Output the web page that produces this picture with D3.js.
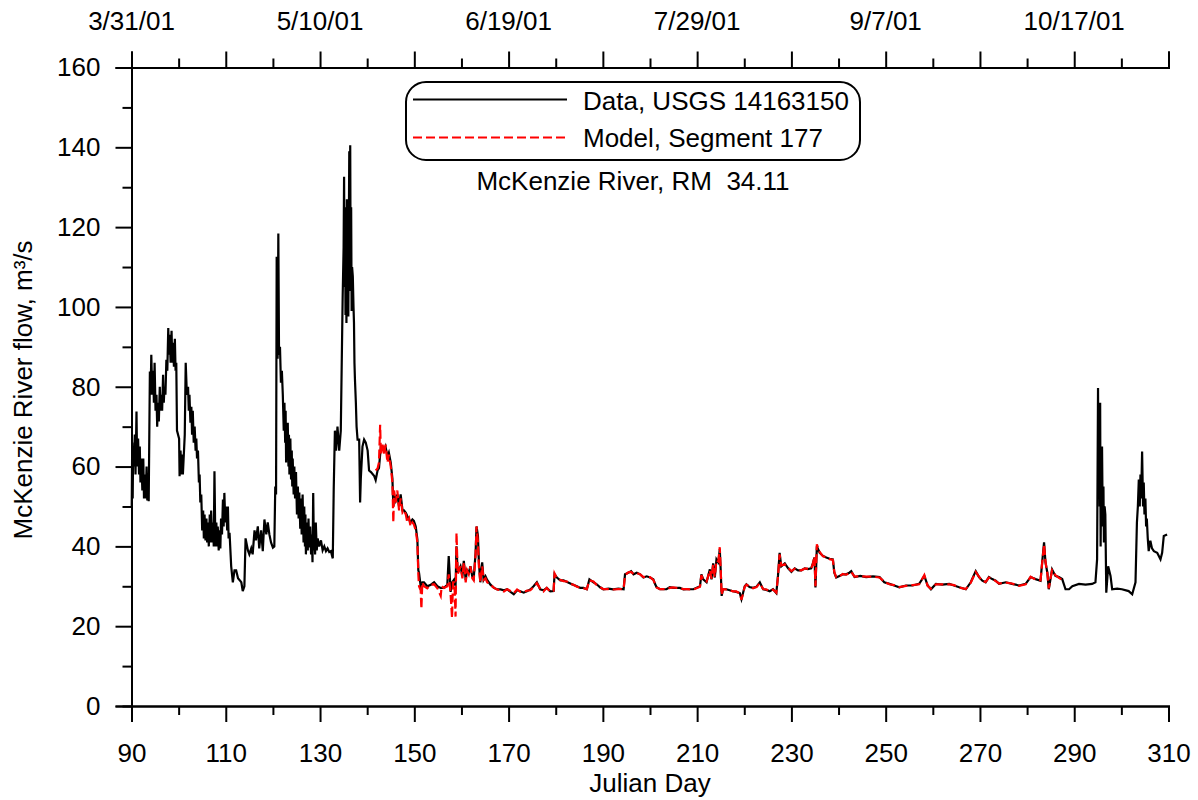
<html>
    <head>
        <style>
            body { margin: 0; background: white; }
            text { font-family: "Liberation Sans", Arial, sans-serif; }
        </style>
    </head>
    <body>

        <svg id="content"></svg>

        <script src="https://cdn.jsdelivr.net/npm/d3@7"></script>
        <script>

            // observed flow, USGS 14163150  [julian day, m3/s]
            let usgsFlow = [
                [90.05,50],[90.15,66],[90.25,52],[90.35,64],[90.5,60],[90.7,68],[90.85,58],[91.06,73.8],[91.2,60],
                [91.4,67],[91.6,58],[91.76,65],[91.9,56],[92.1,62],[92.3,54],[92.5,62],[92.65,52],[92.8,58],
                [93.0,52],[93.2,60],[93.35,51.5],[93.5,56],[93.65,51.3],[93.9,83.8],[94.05,78],[94.2,88],[94.4,78],
                [94.6,84],[94.75,76],[94.9,86],[95.1,74],[95.3,78],[95.45,70],[95.6,76],[95.8,71.3],[96.0,80],
                [96.15,74],[96.3,78],[96.5,74],[96.7,83],[96.85,76],[97.0,80],[97.2,78],[97.4,86.75],[97.6,84],
                [97.8,94.7],[97.95,88],[98.1,93],[98.3,86],[98.5,94],[98.65,86],[98.8,91],[99.0,85],[99.2,92],
                [99.35,84],[99.5,86],[99.65,69],[100.1,67],[100.2,57.6],[100.4,64],[100.6,58],[100.75,63],[100.9,58],
                [101.3,68],[101.5,86],[101.75,78],[102.0,80],[102.15,74],[102.3,78],[102.5,71],[102.7,75],
                [102.85,68],[103.0,74],[103.2,66],[103.4,70],[103.6,64],[103.75,67],[103.9,62],[104.1,64],
                [104.3,56],[104.45,58],[104.6,51],[104.8,53],[105.0,44],[105.2,49],[105.35,42],[105.5,48],
                [105.7,41.5],[105.9,47],[106.05,41],[106.2,46],[106.4,40],[106.6,48],[106.75,41],[106.9,49],
                [107.1,41],[107.3,46],[107.45,40],[107.6,58.8],[107.8,40],[108.0,46],[108.15,40],[108.3,45],
                [108.5,39],[108.7,44],[108.85,39.5],[109.0,47],[109.2,43],[109.4,51.75],[109.55,45],[109.7,53.4],
                [109.9,46],[110.1,50],[110.3,44],[110.45,50],[110.6,42],[110.8,43.4],[111.15,35],[111.5,31],
                [111.85,34],[112.2,34],[112.6,32],[112.9,31.6],[113.3,31],[113.6,28.8],[113.95,30],[114.2,42],
                [114.7,39],[115.0,38],[115.4,39.5],[115.7,38],[116.1,44],[116.4,41.5],[116.8,45],[117.1,39.5],
                [117.5,44],[117.85,38.8],[118.2,46.75],[118.6,43],[118.9,46],[119.25,43],[119.6,41],[120.0,39.7],
                [120.3,40],[120.5,55],[120.67,53],[120.8,112.6],[121.0,87],[121.15,118.4],[121.3,88],[121.5,90],
                [121.7,81],[121.9,84],[122.1,78],[122.3,69],[122.45,76],[122.6,66],[122.7,74],[122.8,61],
                [122.9,70],[123.0,62],[123.15,71],[123.3,60],[123.4,68],[123.5,58],[123.7,67],[123.85,56.75],
                [124.0,64],[124.1,55],[124.2,62],[124.4,53],[124.55,60],[124.7,52],[124.9,58.6],[125.1,48],
                [125.3,55],[125.45,47],[125.6,53.5],[125.8,44.4],[125.96,52],[126.1,43],[126.3,53],[126.5,41],
                [126.65,50],[126.8,40],[126.9,48],[127.0,38],[127.2,46],[127.4,39],[127.55,47],[127.7,39.75],
                [127.9,45],[128.1,38],[128.25,43],[128.4,36],[128.55,53.4],[128.7,39],[128.8,44],[128.95,38],
                [129.1,46],[129.3,39],[129.5,42],[129.8,40],[130.2,41.5],[130.55,39],[130.9,40],[131.25,38.8],
                [131.6,39.5],[131.95,38.6],[132.3,38.8],[132.7,37],[132.9,54.25],[133.15,69],[133.4,64],
                [133.7,70],[134.07,64],[134.4,69],[134.8,102.6],[135.0,115],[135.1,132.6],[135.2,105],[135.3,125],
                [135.4,98],[135.5,110],[135.6,96],[135.7,127],[135.8,100],[135.9,120],[136.0,97.6],[136.1,118],
                [136.2,139],[136.3,104],[136.4,140.5],[136.5,106],[136.6,125],[136.7,99],[136.8,110],[136.95,107.7],
                [137.1,100],[137.2,96],[137.3,86],[137.4,82],[137.5,79],[137.6,76],[137.75,70],[137.96,66.75],
                [138.3,66.75],[138.5,51],[138.65,57],[139.0,65],[139.35,66.75],[139.7,66],[140.1,64],[140.4,59],
                [140.8,58.6],[141.5,57.6],[141.8,56.6],[142.2,59],[142.5,59.6],[142.9,65],[143.2,65],[143.6,64],
                [143.9,65],[144.3,62.5],[144.6,63.5],[145.0,61],[145.35,57],[145.55,50],[145.7,53],[146.06,51.5],
                [146.4,53],[146.76,50],[147.1,53],[147.5,49],[147.8,49],[148.2,48.4],[148.5,47.6],[148.9,46.75],
                [149.2,46],[149.6,46.75],[149.9,46.4],[150.3,45],[150.65,41.75],[150.85,34],[151.0,33.4],
                [151.35,30],[151.7,31],[152.05,31],[152.75,30],[153.5,30.4],[154.2,31],[154.9,30],[155.6,29.6],
                [156.3,29.6],[157.0,30.4],[157.3,37.6],[157.7,28.6],[158.05,31],[158.4,31.6],[158.75,30],
                [158.95,40],[159.2,33.4],[159.8,35],[160.2,32.5],[160.5,36.4],[160.9,31.6],[161.2,34],
                [161.55,33.4],[161.9,35],[162.3,32.5],[162.6,32],[163.0,38.4],[163.2,45],[163.5,42.6],[163.7,36],
                [164.0,31],[164.4,36],[164.7,31.6],[165.1,32.5],[165.45,31.6],[166.15,30.4],[166.9,29.6],
                [167.6,29.2],[168.3,29.2],[169.0,29],[169.7,29.25],[170.4,28.6],[171.1,28],[171.8,29],
                [172.5,28.75],[173.2,28.4],[173.9,28.75],[174.6,29.2],[175.3,30],[176.0,31],[176.7,29.25],
                [177.4,29],[178.1,29.6],[178.85,28.75],[179.55,28.8],[179.75,33],[180.25,32.2],[180.97,31.5],
                [181.66,31.5],[182.4,31.1],[183.1,30.7],[183.8,30.3],[184.5,30],[185.2,29.6],[185.9,29.6],
                [186.6,29.25],[187.15,31.75],[188.0,31],[188.7,30.5],[189.4,29.75],[190.1,29.25],[191.2,29.4],
                [192.2,29.25],[193.3,29.4],[194.4,29.25],[194.7,33],[195.4,33.4],[196.0,33.8],[196.5,33],
                [197.2,33.4],[197.9,33],[198.6,32.2],[199.3,32.5],[200.0,32.2],[200.7,31.75],[201.1,30.5],
                [201.4,29.75],[202.1,29.25],[203.5,29.25],[204.2,29.8],[204.9,29.6],[206.35,29.6],[207.1,29.2],
                [207.8,29.25],[209.2,29.25],[210.6,30],[210.9,33],[211.3,31.75],[212.0,31],[212.7,34.25],
                [213.05,31.75],[213.4,35.75],[213.75,32.2],[214.1,36.75],[214.5,36],[214.8,39.25],[215.0,34],
                [215.2,27.6],[215.5,29.25],[216.2,29.25],[216.9,29],[217.6,28.75],[218.3,28.6],[219.05,28.3],
                [219.4,26.75],[220.1,30],[220.45,30.5],[221.1,29.8],[221.85,29.6],[222.6,29.9],[223.3,31],
                [224.0,29.25],[224.7,29.1],[225.4,28.75],[226.1,29.25],[226.8,28.3],[227.15,32.6],[227.5,38.4],
                [227.85,35],[228.6,35.75],[229.3,34.5],[230.0,33.6],[230.7,34.5],[231.4,34],[232.1,34],
                [232.8,34.5],[233.5,34.3],[234.2,34.5],[234.55,35.75],[234.9,37.2],[235.1,29.7],[235.4,40],
                [236.0,38.4],[236.7,37.6],[237.4,37.2],[238.1,36.9],[238.8,36.75],[239.1,33.4],[239.5,32.2],
                [240.2,32.6],[240.9,33],[241.6,33],[242.3,33.4],[242.7,33.8],[243.4,32.3],[244.6,32.6],
                [245.85,32.3],[247.3,32.5],[248.7,32.3],[249.7,31],[250.8,30.6],[251.8,30.2],[252.9,29.75],
                [254.3,30.2],[255.7,30.2],[257.1,30.6],[258.2,32.6],[258.9,30.2],[259.6,29.25],[260.65,30.6],
                [262.0,30.4],[263.5,30.6],[264.5,30.2],[265.6,29.75],[267.0,29.25],[268.05,31],[269.1,33.8],
                [269.8,32.3],[270.5,31.4],[271.2,31],[271.9,32.3],[272.6,31.8],[273.35,31.4],[274.05,30.6],
                [275.5,31],[276.8,30.6],[278.3,30.2],[279.7,30.6],[280.75,32.3],[281.8,31.8],[282.85,31.4],
                [283.2,36],[283.6,41],[283.9,36],[284.3,33.4],[284.6,29.25],[285.3,34.2],[286.0,32.6],
                [286.75,32.3],[287.45,31.8],[288.15,29.25],[288.9,29.25],[289.6,30],[291.0,30.6],[292.4,30.4],
                [293.8,30.6],[294.5,31],[294.85,36.75],[295.05,79.7],[295.15,55],[295.3,72],[295.4,50],[295.5,76],
                [295.6,40],[295.75,60],[295.9,65],[296.05,45],[296.2,55],[296.3,41],[296.45,50],[296.6,48],
                [296.8,28.4],[297.2,35],[297.7,32.6],[298.05,29.25],[299.1,29.4],[300.1,29.25],[301.55,28.8],
                [302.3,28],[303.0,31],[303.3,46],[303.5,50],[303.7,56.75],[303.9,50],[304.05,58],[304.2,52],
                [304.4,63.8],[304.6,50],[304.75,56],[304.9,48],[305.1,52],[305.25,45],[305.4,47],[305.6,42],
                [305.8,38.8],[306.15,41.4],[306.5,39.5],[306.9,38.8],[307.6,38.4],[308.3,36.75],[308.65,38.4],
                [309.0,42.6],[309.7,43]
            ];

            // model output, segment 177  [julian day, m3/s]
            let modelFlow = [
                [141.8,59],[142.2,59.5],[142.5,61],[142.75,70.5],[142.9,63],[143.2,66],[143.6,63],[143.9,65.5],
                [144.3,61],[144.6,63],[145.0,60],[145.35,56],[145.55,46],[145.7,54],[146.06,51],[146.4,54],
                [146.76,49],[147.1,52],[147.5,48.5],[147.8,49],[148.2,48],[148.5,46],[148.9,47],[149.2,45],
                [149.6,46],[149.9,45.5],[150.3,44],[150.65,41],[150.85,33],[151.0,30],[151.35,29],[151.5,24.3],
                [151.7,31],[152.05,30],[152.75,29.5],[153.5,30.4],[154.2,30.5],[154.9,29.5],[155.6,27.6],
                [155.8,30],[156.3,29.6],[157.0,30],[157.3,33],[157.7,28],[158.0,22],[158.2,31],[158.5,31],
                [158.75,22.4],[158.95,43.4],[159.2,33],[159.8,35],[160.2,32],[160.5,36],[160.9,31],[161.2,34],
                [161.55,33],[161.9,35],[162.3,32],[162.6,31.5],[163.0,38],[163.2,45],[163.5,41],[163.7,35],
                [164.0,31],[164.4,35],[164.7,31.6],[165.1,32],[165.45,31],[166.15,30.4],[166.9,29.6],[167.6,29.2],
                [168.3,29],[169.0,28.7],[169.7,29.25],[170.4,28.8],[171.1,28.3],[171.8,29.2],[172.5,28.6],
                [173.2,28.6],[173.9,28.9],[174.6,29],[175.3,29.8],[176.0,30.8],[176.7,29.4],[177.4,28.7],
                [178.1,29.6],[178.85,28.6],[179.55,28.9],[179.75,33.2],[180.25,32],[180.97,31.6],[181.66,31.3],
                [182.4,31.2],[183.1,30.6],[183.8,30.4],[184.5,29.9],[185.2,29.6],[185.9,29.5],[186.6,29.3],
                [187.15,31.5],[188.0,31.2],[188.7,30.3],[189.4,29.8],[190.1,29.3],[191.2,29.3],[192.2,29.2],
                [193.3,29.3],[194.4,29.3],[194.7,32.8],[195.4,33.5],[196.0,33.6],[196.5,33.1],[197.2,33.3],
                [197.9,33],[198.6,32.3],[199.3,32.4],[200.0,32.3],[200.7,31.6],[201.1,30.6],[201.4,29.7],
                [202.1,29.3],[203.5,29.3],[204.2,29.6],[204.9,29.7],[206.35,29.5],[207.1,29.3],[207.8,29.3],
                [209.2,29.2],[210.6,29.9],[210.9,32.8],[211.3,31.6],[212.0,31.2],[212.7,34],[213.05,31.9],
                [213.4,35.5],[213.75,32.4],[214.1,36.5],[214.5,36.2],[214.8,39.8],[215.0,34.2],[215.2,27.8],
                [215.5,29.3],[216.2,29.2],[216.9,29.1],[217.6,28.7],[218.3,28.7],[219.05,28.2],[219.4,26.6],
                [220.1,29.9],[220.45,30.4],[221.1,29.9],[221.85,29.5],[222.6,29.8],[223.3,30.8],[224.0,29.3],
                [224.7,29.2],[225.4,28.8],[226.1,29.2],[226.8,28.4],[227.15,32.4],[227.5,38],[227.85,35.2],
                [228.6,35.5],[229.3,34.6],[230.0,33.8],[230.7,34.4],[231.4,34.1],[232.1,34],[232.8,34.4],
                [233.5,34.4],[234.2,34.4],[234.55,35.6],[234.9,37.5],[235.1,30],[235.4,40.5],[236.0,38.6],
                [236.7,37.5],[237.4,37.3],[238.1,36.8],[238.8,36.6],[239.1,33.6],[239.5,32.3],[240.2,32.5],
                [240.9,33.1],[241.6,32.9],[242.3,33.3],[242.7,33.6],[243.4,32.4],[244.6,32.5],[245.85,32.4],
                [247.3,32.4],[248.7,32.2],[249.7,31.1],[250.8,30.5],[251.8,30.3],[252.9,29.8],[254.3,30.1],
                [255.7,30.3],[257.1,30.5],[258.2,32.8],[258.9,30.1],[259.6,29.4],[260.65,30.5],[262.0,30.5],
                [263.5,30.5],[264.5,30.3],[265.6,29.7],[267.0,29.3],[268.05,30.9],[269.1,33.6],[269.8,32.4],
                [270.5,31.3],[271.2,31.1],[271.9,32.2],[272.6,31.9],[273.35,31.3],[274.05,30.7],[275.5,30.9],
                [276.8,30.7],[278.3,30.1],[279.7,30.5],[280.75,32.4],[281.8,31.7],[282.85,31.5],[283.2,35.8],
                [283.6,40.5],[283.9,36.2],[284.3,33.2],[284.6,29.5],[285.3,34],[286.0,32.8],[286.75,32.1],
                [287.3,31.7]
            ];

            let yMajor = [0, 20, 40, 60, 80, 100, 120, 140, 160];
            let yMinor = [10, 30, 50, 70, 90, 110, 130, 150];
            let xMajor = [90, 110, 130, 150, 170, 190, 210, 230, 250, 270, 290, 310];
            let xMinor = [100, 120, 140, 160, 180, 200, 220, 240, 260, 280, 300];
            let dateDays = [90, 130, 170, 210, 250, 290];
            let dateLabels = ["3/31/01", "5/10/01", "6/19/01", "7/29/01", "9/7/01", "10/17/01"];

            let bodyWidth = 1198;
            let bodyHeight = 800;
            let fontSize = "26px";

            let body = d3.select("#content")
                            .attr("width", bodyWidth)
                            .attr("height", bodyHeight);

            let xScale = d3.scaleLinear().domain([90, 310]).range([131.5, 1168.5]);
            let yScale = d3.scaleLinear().domain([0, 160]).range([706, 67.5]);

            // axes
            let bottomAxis = body.append("g").attr("transform", "translate(0,706)");
            bottomAxis.call(d3.axisBottom(xScale).tickValues(xMajor).tickSize(16).tickPadding(22).tickFormat(d3.format("d")));
            bottomAxis.append("g").call(d3.axisBottom(xScale).tickValues(xMinor).tickSize(9).tickFormat(""));

            let topAxis = body.append("g").attr("transform", "translate(0,67.5)");
            topAxis.call(d3.axisTop(xScale).tickValues(xMajor).tickSize(16).tickFormat(""));
            topAxis.append("g").call(d3.axisTop(xScale).tickValues(xMinor).tickSize(9).tickFormat(""));

            let leftAxis = body.append("g").attr("transform", "translate(131.5,0)");
            leftAxis.call(d3.axisLeft(yScale).tickValues(yMajor).tickSize(16).tickPadding(15).tickFormat(d3.format("d")));
            leftAxis.append("g").call(d3.axisLeft(yScale).tickValues(yMinor).tickSize(9).tickFormat(""));

            body.selectAll(".domain").attr("stroke", "black").attr("stroke-width", 2);
            body.selectAll(".tick line").attr("stroke", "black").attr("stroke-width", 2);
            body.selectAll(".tick text")
                .attr("fill", "black")
                .style("font-size", fontSize)
                .style("font-family", "'Liberation Sans', Arial, sans-serif");

            // date labels along the top
            body.selectAll(".dateLabel")
                .data(dateDays)
                .enter()
                .append("text")
                .attr("class", "dateLabel")
                .attr("x", d => xScale(d))
                .attr("y", 30)
                .attr("text-anchor", "middle")
                .style("font-size", fontSize)
                .text((d, i) => dateLabels[i]);

            // series
            let line = d3.line()
                            .x(d => xScale(d[0]))
                            .y(d => yScale(d[1]));

            body.append("path")
                .datum(usgsFlow)
                .attr("d", line)
                .attr("fill", "none")
                .attr("stroke", "black")
                .attr("stroke-width", 2.2);

            body.append("path")
                .datum(modelFlow)
                .attr("d", line)
                .attr("fill", "none")
                .attr("stroke", "#ff0000")
                .attr("stroke-width", 2.2)
                .attr("stroke-dasharray", "9,4");

            // axis titles
            body.append("text")
                .attr("x", xScale(200))
                .attr("y", 792)
                .attr("text-anchor", "middle")
                .style("font-size", fontSize)
                .text("Julian Day");

            body.append("text")
                .attr("transform", "translate(32,390) rotate(-90)")
                .attr("text-anchor", "middle")
                .style("font-size", fontSize)
                .text("McKenzie River flow, m³/s");

            // legend
            let legend = body.append("g");
            legend.append("rect")
                .attr("x", 406).attr("y", 82)
                .attr("width", 454).attr("height", 78)
                .attr("rx", 20).attr("ry", 20)
                .attr("fill", "white")
                .attr("stroke", "black")
                .attr("stroke-width", 2);

            legend.append("line")
                .attr("x1", 413).attr("x2", 567)
                .attr("y1", 99.5).attr("y2", 99.5)
                .attr("stroke", "black").attr("stroke-width", 2);
            legend.append("text")
                .attr("x", 583).attr("y", 110)
                .style("font-size", fontSize)
                .text("Data, USGS 14163150");

            legend.append("line")
                .attr("x1", 413).attr("x2", 567)
                .attr("y1", 137.5).attr("y2", 137.5)
                .attr("stroke", "#ff0000").attr("stroke-width", 2)
                .attr("stroke-dasharray", "9,4");
            legend.append("text")
                .attr("x", 583).attr("y", 147)
                .style("font-size", fontSize)
                .text("Model, Segment 177");

            body.append("text")
                .attr("x", 633)
                .attr("y", 190)
                .attr("text-anchor", "middle")
                .style("font-size", fontSize)
                .style("white-space", "pre")
                .text("McKenzie River, RM  34.11");

        </script>
    </body>
</html>
